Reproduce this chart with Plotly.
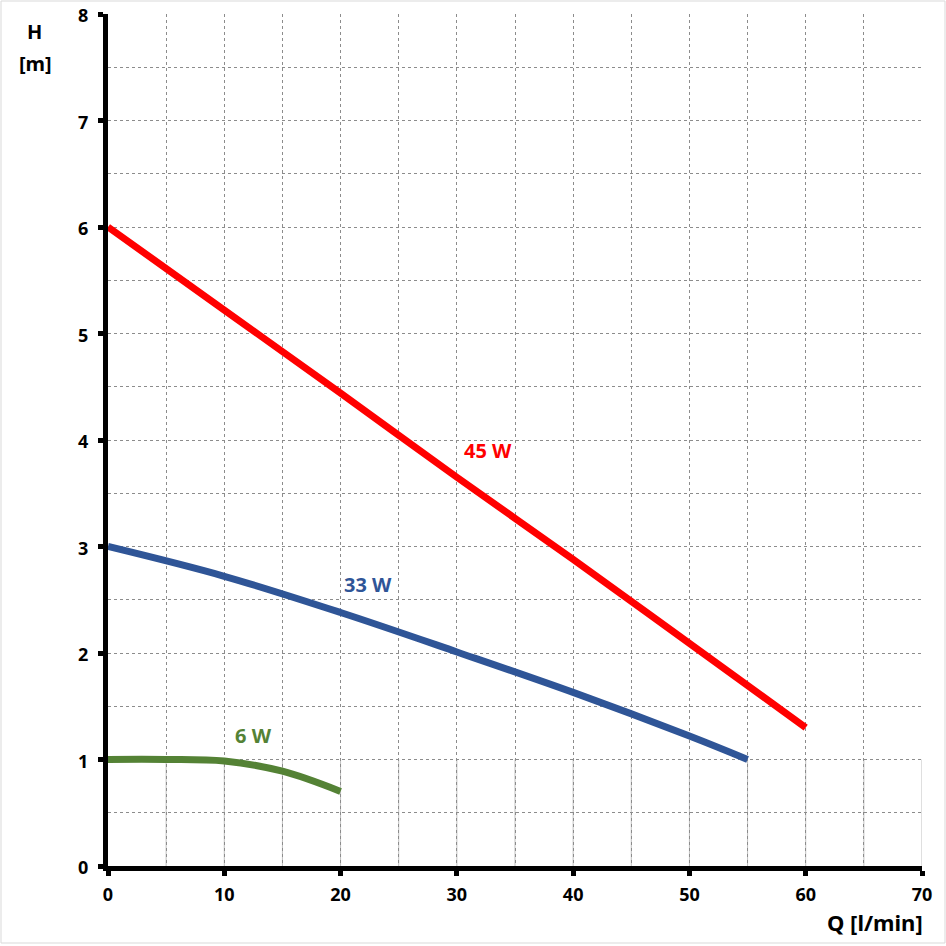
import plotly.graph_objects as go

# pump curves, H [m] vs Q [l/min]
q_45 = [0, 10, 20, 30, 40, 50, 60]
h_45 = [6.0, 5.22, 4.44, 3.65, 2.88, 2.09, 1.3]

q_33 = [0, 10, 20, 30, 40, 50, 55]
h_33 = [3.0, 2.72, 2.38, 2.01, 1.63, 1.22, 1.0]

q_6 = [0, 5, 10, 15, 20]
h_6 = [1.0, 1.0, 0.985, 0.89, 0.7]

labels = ["45 W", "33 W", "6 W"]
label_q = [32.7, 22.4, 12.5]
label_h = [3.9, 2.64, 1.23]
colors = ["#FF0000", "#2F5597", "#548235"]

W, H = 946, 946
ml, mr, mt, mb = 108, 24, 14, 80
FONT = "Noto Sans"

fig = go.Figure()
for q, h, c in [(q_45, h_45, colors[0]), (q_33, h_33, colors[1]), (q_6, h_6, colors[2])]:
    fig.add_trace(go.Scatter(x=q, y=h, mode='lines', line=dict(color=c, width=7, shape='spline'),
                             showlegend=False, hoverinfo='skip'))

for t, x, y, c in zip(labels, label_q, label_h, colors):
    fig.add_annotation(x=x, y=y, text=f"<b>{t}</b>", showarrow=False,
                       font=dict(family=FONT, size=20, color=c))

# solid vertical grid in the lowest band
for xv in range(5, 75, 5):
    fig.add_shape(type='line', x0=xv, x1=xv, y0=0, y1=1, xref='x', yref='y',
                  line=dict(color='#BFBFBF', width=1), layer='below')

pw, ph = W - ml - mr, H - mt - mb

# thin frame round the whole picture
fig.add_shape(type='rect', xref='paper', yref='paper',
              x0=-(ml - 1) / pw, x1=1 + (mr - 1) / pw, y0=-(mb - 3) / ph, y1=1 + (mt - 1) / ph,
              line=dict(color='#D9D9D9', width=1), layer='below')

fig.add_annotation(xref='paper', yref='paper', x=-(ml - 34) / pw, y=1 - 18 / ph,
                   xanchor='center', yanchor='middle',
                   text="<b>H</b>", showarrow=False, font=dict(family=FONT, size=20, color='black'))
fig.add_annotation(xref='paper', yref='paper', x=-(ml - 35) / pw, y=1 - 50 / ph,
                   xanchor='center', yanchor='middle',
                   text="<b>[m]</b>", showarrow=False, font=dict(family=FONT, size=20, color='black'))
fig.add_annotation(xref='paper', yref='paper', x=1 + 3 / pw, y=-56 / ph, xanchor='right', yanchor='middle',
                   text="<b>Q [l/min]</b>", showarrow=False, font=dict(family=FONT, size=22, color='black'))

fig.update_xaxes(range=[0, 70], dtick=10, tick0=0, showline=True, linecolor='black', linewidth=5,
                 ticks='outside', ticklen=5, tickwidth=5, tickcolor='black',
                 showgrid=True, gridcolor='#8C8C8C', gridwidth=1, griddash='dot',
                 minor=dict(dtick=5, showgrid=True, gridcolor='#8C8C8C', griddash='dot'),
                 tickfont=dict(family=FONT, size=18, color='black', weight='bold'), zeroline=False,
                 ticklabelstandoff=3, automargin=False, ticklabeloverflow='allow')
fig.update_yaxes(range=[0, 8], dtick=1, tick0=0, showline=True, linecolor='black', linewidth=5,
                 ticks='outside', ticklen=5, tickwidth=5, tickcolor='black',
                 showgrid=True, gridcolor='#8C8C8C', gridwidth=1, griddash='dot',
                 minor=dict(dtick=0.5, showgrid=True, gridcolor='#8C8C8C', griddash='dot'),
                 tickfont=dict(family=FONT, size=18, color='black', weight='bold'), zeroline=False,
                 ticklabelstandoff=6, ticklabelshift=2, automargin=False, ticklabeloverflow='allow')

fig.update_layout(width=W, height=H, margin=dict(l=ml, r=mr, t=mt, b=mb, autoexpand=False),
                  plot_bgcolor='white', paper_bgcolor='white',
                  font=dict(family=FONT))
# drop the default page margin so the figure fills the window
fig.write_html("out.html", config={'displayModeBar': False},
               post_script="document.body.style.margin='0';")
